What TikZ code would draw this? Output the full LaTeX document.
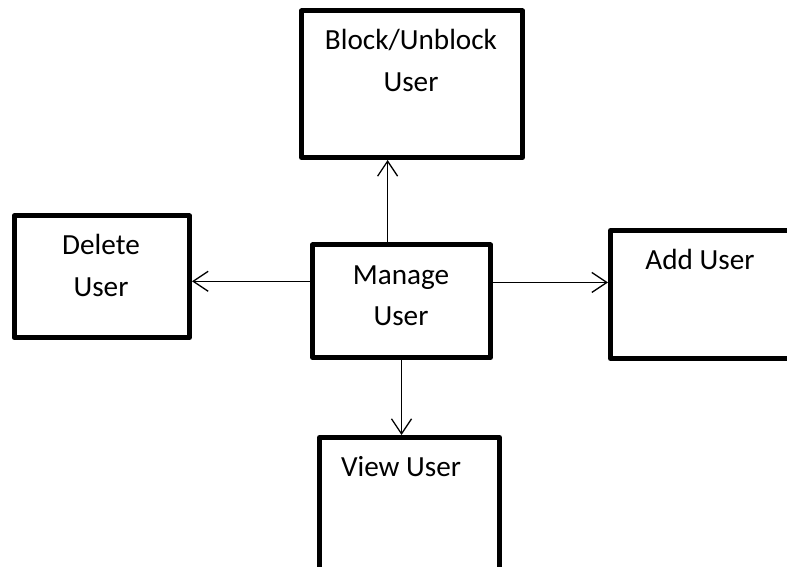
\documentclass[tikz,border=0pt]{standalone}
\usepackage{fontspec}
\setmainfont{Carlito}
\usetikzlibrary{arrows.meta,calc}
\begin{document}
\begin{tikzpicture}[x=1pt,y=1pt,
  box/.style={draw,line width=5pt,inner sep=0pt,line join=round},
  conn/.style={line width=1.3pt,-{Straight Barb[length=15pt,width=20pt,line width=1.3pt]}},
  txt/.style={anchor=base,inner sep=0pt,font=\fontsize{29.2}{35}\selectfont}]
\clip (0,0) rectangle (787,567);
\fill[white] (0,0) rectangle (787,567);
% boxes
\node[box,minimum width=221pt,minimum height=146.5pt] (block) at (412,482.75) {};
\node[box,minimum width=175.5pt,minimum height=121.5pt] (delete) at (101.75,290.25) {};
\node[box,minimum width=178pt,minimum height=112.5pt] (manage) at (401.5,265.75) {};
\node[box,minimum width=199.5pt,minimum height=128pt] (add) at (710.25,272.5) {};
\node[box,minimum width=180pt,minimum height=202.5pt] (view) at (409.5,28.25) {};
% texts
\node[txt] (blockA) at (411,517) {Block/Unblock};
\node[txt] (blockB) at (411,475) {User};
\node[txt] (deleteA) at (101,312) {Delete};
\node[txt] (deleteB) at (101,270) {User};
\node[txt] (manageA) at (401,282) {Manage};
\node[txt] (manageB) at (401,241) {User};
\node[txt] (addA) at (700,297) {Add User};
\node[txt] (viewA) at (401,90) {View User};
% connectors
\draw[conn] ($(manage.north west)!0.424!(manage.north east)$) coordinate (up) -- (up |- block.south);
\draw[conn] ($(manage.north west)!0.33!(manage.south west)$) coordinate (lf) -- (lf -| delete.east);
\draw[conn] ($(manage.north east)!0.34!(manage.south east)$) coordinate (rt) -- (rt -| add.west);
\draw[conn] (manage.south) -- (manage.south |- view.north);
\end{tikzpicture}
\end{document}
